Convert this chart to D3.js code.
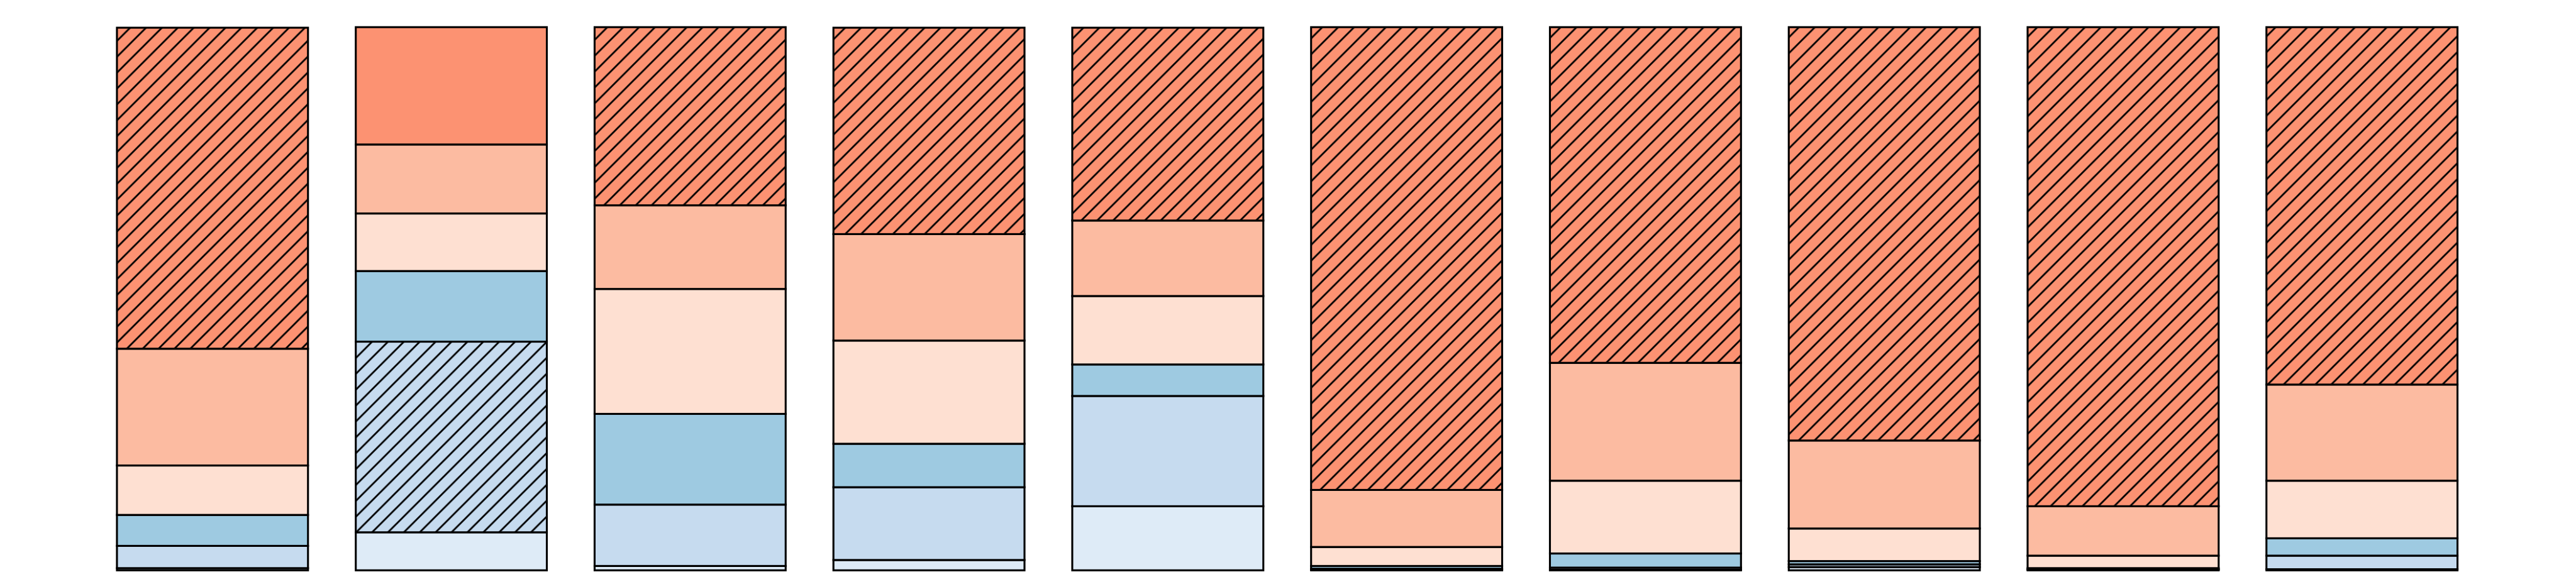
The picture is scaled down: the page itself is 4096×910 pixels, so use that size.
<!DOCTYPE html>
<html>
<head>
<meta charset="utf-8">
<script src="https://cdn.jsdelivr.net/npm/d3@7"></script>
<style>
  html, body { margin: 0; padding: 0; background: #ffffff; }
  svg { display: block; }
</style>
</head>
<body>
<script>
// ---- data (each bar sums to 1) ----
const categories = ["1", "2", "3", "4", "5", "6", "7", "8", "9", "10"];
const seriesNames = ["s1", "s2", "s3", "s4", "s5", "s6"];   // bottom → top
const s1 = [0.004, 0.070, 0.008, 0.019, 0.118, 0.001, 0.001, 0.006, 0.001, 0.002];
const s2 = [0.041, 0.351, 0.113, 0.134, 0.203, 0.002, 0.004, 0.005, 0.001, 0.025];
const s3 = [0.057, 0.130, 0.167, 0.080, 0.058, 0.005, 0.026, 0.006, 0.002, 0.032];
const s4 = [0.091, 0.106, 0.230, 0.190, 0.126, 0.035, 0.134, 0.060, 0.023, 0.106];
const s5 = [0.215, 0.127, 0.154, 0.196, 0.139, 0.105, 0.217, 0.162, 0.091, 0.177];
const s6 = [0.591, 0.216, 0.328, 0.380, 0.355, 0.852, 0.618, 0.761, 0.882, 0.658];
const seriesColors = ["#deebf7", "#c6dbef", "#9ecae1", "#fee0d2", "#fcbba1", "#fc9272"];

// ---- build table ----
const seriesValues = [s1, s2, s3, s4, s5, s6];
const table = categories.map((c, i) => {
  const row = { cat: c };
  seriesNames.forEach((n, j) => row[n] = seriesValues[j][i]);
  return row;
});

// ---- layout (reference 5400x1200 drawn at 0.758) ----
const k = 0.758;
const W = 4096, H = 910;
const svg = d3.select("body").append("svg").attr("width", W).attr("height", H);

const x = d3.scaleBand()
  .domain(categories)
  .range([195.2 * k, (195.2 + 5010) * k])
  .paddingInner(0.2)
  .paddingOuter(0.1);
const y = d3.scaleLinear().domain([0, 1]).range([1197 * k, 57 * k]);

// hatch patterns, anchored in page space
const hs = 33.33 * k;
const defs = svg.append("defs");
seriesColors.forEach((col, j) => {
  const p = defs.append("pattern")
    .attr("id", "hatch" + j)
    .attr("patternUnits", "userSpaceOnUse")
    .attr("x", 23.7)
    .attr("y", 0)
    .attr("width", hs)
    .attr("height", hs);
  p.append("rect").attr("width", hs).attr("height", hs).attr("fill", col);
  p.append("path")
    .attr("d", `M${-hs/2},${hs/2} L${hs/2},${-hs/2} M0,${hs} L${hs},0 M${hs/2},${1.5*hs} L${1.5*hs},${hs/2}`)
    .attr("stroke", "#000")
    .attr("stroke-width", 2.8)
    .attr("fill", "none");
});

const stack = d3.stack().keys(seriesNames);
const stacked = stack(table);

// which series is the largest in each bar → hatched
const maxIdx = categories.map((c, i) => d3.maxIndex(seriesValues, s => s[i]));

const g = svg.append("g");
stacked.forEach((layer, j) => {
  g.selectAll(null)
    .data(layer)
    .join("rect")
    .attr("x", d => x(d.data.cat))
    .attr("width", x.bandwidth())
    .attr("y", d => y(d[1]))
    .attr("height", d => y(d[0]) - y(d[1]))
    .attr("fill", (d, i) => maxIdx[i] === j ? `url(#hatch${j})` : seriesColors[j])
    .attr("stroke", "#000")
    .attr("stroke-width", 3.1);
});
</script>
</body>
</html>
